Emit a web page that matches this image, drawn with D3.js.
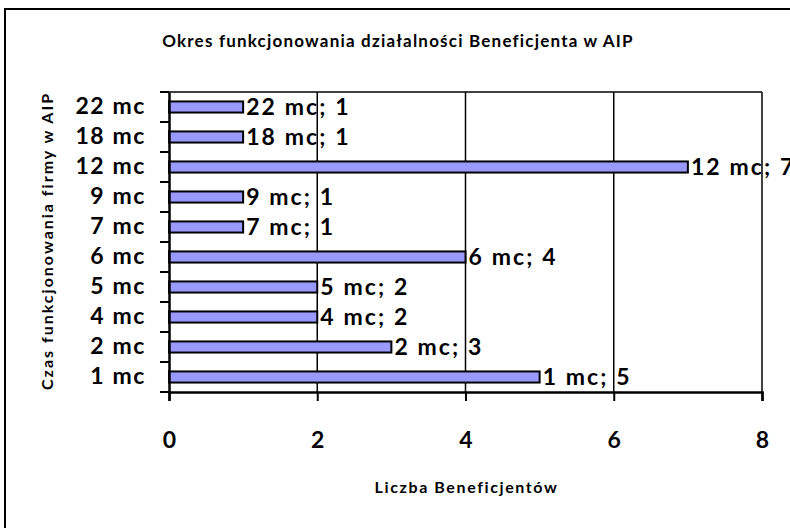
<!DOCTYPE html>
<html>
<head>
<meta charset="utf-8">
<script src="https://cdn.jsdelivr.net/npm/d3@7"></script>
<style>
  body { margin: 0; background: #fff; }
  text { font-family: Lato, "Open Sans", sans-serif; font-weight: bold; fill: #000; }
</style>
</head>
<body>
<div id="chart"></div>
<script>
// categories from bottom to top as in the picture
const categories = ["1 mc", "2 mc", "4 mc", "5 mc", "6 mc", "7 mc", "9 mc", "12 mc", "18 mc", "22 mc"];
const counts = [5, 3, 2, 2, 4, 1, 1, 7, 1, 1];
const xTicks = [0, 2, 4, 6, 8];

const W = 790, H = 528;
const margin = { top: 92, right: 28, bottom: 136, left: 169 };
const width = W - margin.left - margin.right;
const height = H - margin.top - margin.bottom;

const svg = d3.select("#chart").append("svg")
    .attr("width", W)
    .attr("height", H);

// outer frame (cut at right/bottom like the original)
svg.append("rect")
    .attr("x", 5).attr("y", 9)
    .attr("width", W + 10).attr("height", H + 10)
    .attr("fill", "none")
    .attr("stroke", "#000")
    .attr("stroke-width", 2);

svg.append("text")
    .attr("x", 398).attr("y", 47)
    .attr("text-anchor", "middle")
    .style("font-size", "17px")
    .style("letter-spacing", "1.2px")
    .text("Okres funkcjonowania działalności Beneficjenta w AIP");

const g = svg.append("g")
    .attr("transform", "translate(" + margin.left + "," + margin.top + ")");

const x = d3.scaleLinear().domain([0, 8]).range([0, width]);
const y = d3.scaleBand()
    .domain(categories.slice().reverse())
    .range([0, height])
    .paddingInner(0.63)
    .paddingOuter(0.315);

// vertical gridlines
g.selectAll(".grid")
    .data(xTicks.slice(1))
    .enter().append("line")
    .attr("class", "grid")
    .attr("x1", d => x(d)).attr("x2", d => x(d))
    .attr("y1", 0).attr("y2", height)
    .attr("stroke", "#000")
    .attr("stroke-width", 1.5);

// top border of plot area
g.append("line")
    .attr("x1", 0).attr("x2", width)
    .attr("y1", 0).attr("y2", 0)
    .attr("stroke", "#000")
    .attr("stroke-width", 1.5);

// bars
g.selectAll(".bar")
    .data(categories)
    .enter().append("rect")
    .attr("class", "bar")
    .attr("x", 0)
    .attr("y", d => y(d))
    .attr("width", (d, i) => x(counts[i]))
    .attr("height", y.bandwidth())
    .attr("fill", "#9999ff")
    .attr("stroke", "#000")
    .attr("stroke-width", 2);

// data labels
g.selectAll(".lbl")
    .data(categories)
    .enter().append("text")
    .attr("class", "lbl")
    .attr("x", (d, i) => x(counts[i]) + 3)
    .attr("y", d => y(d) + y.bandwidth() / 2)
    .attr("dy", "0.36em")
    .style("font-size", "23px")
    .style("letter-spacing", "2.1px")
    .text((d, i) => d + "; " + counts[i]);

// x axis
const xAxis = g.append("g")
    .attr("transform", "translate(0," + height + ")")
    .call(d3.axisBottom(x).tickValues(xTicks).tickSize(9).tickPadding(31).tickFormat(d3.format("d")));
xAxis.select(".domain").attr("stroke-width", 2.5);
xAxis.selectAll(".tick line").attr("stroke-width", 2);
xAxis.selectAll("text").style("font-size", "23px").style("font-family", "Lato, sans-serif");

// y axis, ticks between categories
const yAxis = g.append("g")
    .call(d3.axisLeft(y).tickSize(0).tickPadding(23));
yAxis.select(".domain").attr("stroke-width", 2.5);
yAxis.selectAll("text").style("font-size", "23px").style("font-family", "Lato, sans-serif")
    .style("letter-spacing", "1.6px");

const step = height / categories.length;
g.selectAll(".ytick")
    .data(d3.range(categories.length + 1))
    .enter().append("line")
    .attr("class", "ytick")
    .attr("x1", -9).attr("x2", 0)
    .attr("y1", d => d * step).attr("y2", d => d * step)
    .attr("stroke", "#000")
    .attr("stroke-width", 2);

// axis titles
svg.append("text")
    .attr("x", margin.left + width / 2 + 1).attr("y", 493)
    .attr("text-anchor", "middle")
    .style("font-size", "16px")
    .style("letter-spacing", "1.6px")
    .text("Liczba Beneficjentów");

svg.append("text")
    .attr("transform", "translate(53," + (margin.top + height / 2 - 1) + ") rotate(-90)")
    .attr("text-anchor", "middle")
    .style("font-size", "16px")
    .style("letter-spacing", "2px")
    .text("Czas funkcjonowania firmy w AIP");
</script>
</body>
</html>
